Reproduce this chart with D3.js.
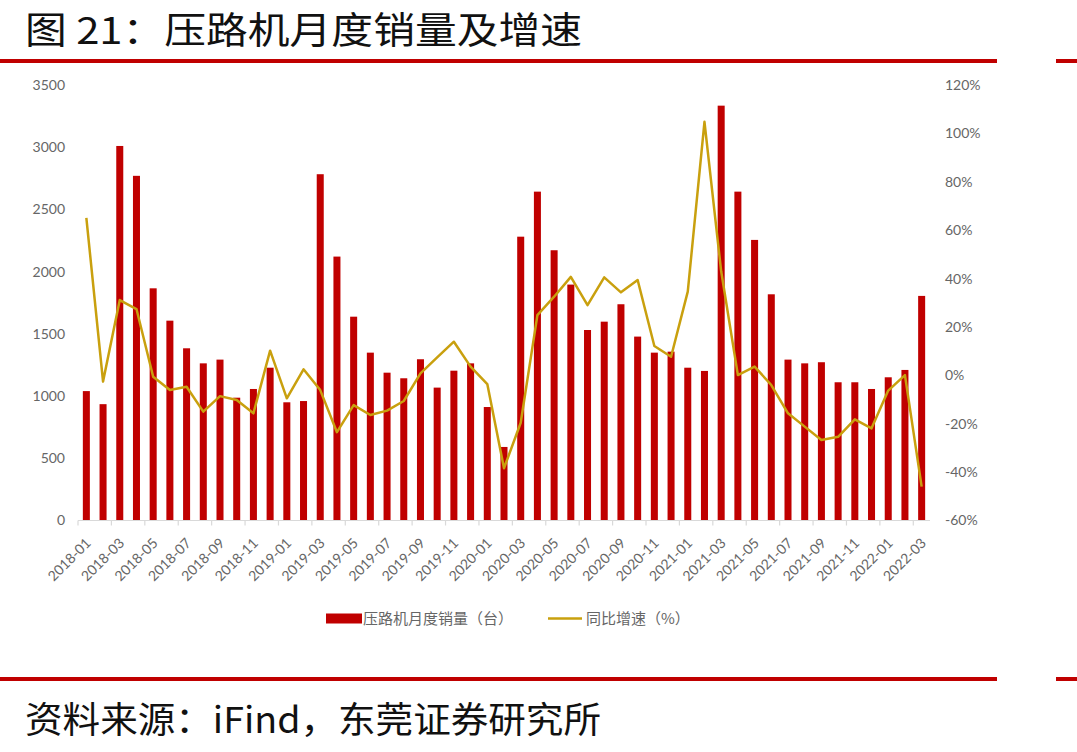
<!DOCTYPE html>
<html><head><meta charset="utf-8">
<script src="https://cdn.jsdelivr.net/npm/d3@7"></script>
<style>
body{margin:0;background:#fff;}
svg{display:block;}
text{font-family:Lato,"Noto Sans CJK SC",sans-serif;}
</style></head>
<body><svg id="c" width="1077" height="752"></svg>
<script>
const categories = ["2018-01","2018-02","2018-03","2018-04","2018-05","2018-06","2018-07","2018-08","2018-09","2018-10","2018-11","2018-12",
"2019-01","2019-02","2019-03","2019-04","2019-05","2019-06","2019-07","2019-08","2019-09","2019-10","2019-11","2019-12",
"2020-01","2020-02","2020-03","2020-04","2020-05","2020-06","2020-07","2020-08","2020-09","2020-10","2020-11","2020-12",
"2021-01","2021-02","2021-03","2021-04","2021-05","2021-06","2021-07","2021-08","2021-09","2021-10","2021-11","2021-12",
"2022-01","2022-02","2022-03"];
const sales = [1040,935,3010,2770,1866,1606,1384,1263,1293,987,1057,1228,
950,960,2783,2121,1638,1349,1188,1143,1296,1068,1204,1263,
912,591,2281,2643,2172,1896,1531,1598,1738,1478,1349,1357,
1228,1202,3334,2643,2255,1818,1293,1263,1272,1111,1111,1057,
1151,1210,1805];
const growth = [65.1,-2.6,31.1,27.4,-0.6,-6.1,-4.7,-15.0,-8.6,-10.2,-15.7,10.2,
-9.5,2.5,-6.1,-23.5,-12.3,-16.4,-14.6,-10.6,0.8,7.4,13.9,3.6,
-3.6,-38.4,-19.6,24.9,32.5,40.7,29.0,40.5,34.3,39.4,12.1,7.7,
34.6,104.8,43.0,0.1,3.6,-4.0,-15.7,-21.2,-26.7,-25.4,-18.2,-21.9,
-6.3,0.1,-46.0];
const leftTicks = [0,500,1000,1500,2000,2500,3000,3500];
const rightTicks = [-60,-40,-20,0,20,40,60,80,100,120];
const titleText = "图 21：压路机月度销量及增速";
const sourceText = "资料来源：iFind，东莞证券研究所";
const legendLabels = ["压路机月度销量（台）","同比增速（%）"];

const svg = d3.select("#c");
const red = "#c00000", gold = "#c9a00e", gray = "#666";

// title & rules
svg.append("text").attr("x",25).attr("y",44).attr("font-size",37)
  .attr("textLength",557).attr("lengthAdjust","spacingAndGlyphs")
  .style("font-family","'Noto Sans CJK SC'").attr("fill","#111").text(titleText);
[61,679].forEach(y=>{
  svg.append("rect").attr("x",0).attr("y",y-2).attr("width",997).attr("height",4).attr("fill",red);
  svg.append("rect").attr("x",1056).attr("y",y-2).attr("width",21).attr("height",4).attr("fill",red);
});
svg.append("text").attr("x",25).attr("y",733).attr("font-size",36)
  .attr("textLength",576).attr("lengthAdjust","spacingAndGlyphs")
  .style("font-family","'Noto Sans CJK SC'").attr("fill","#111").text(sourceText);

const x = d3.scaleBand().domain(categories).range([78,930]).paddingInner(0.58).paddingOuter(0.29);
const yL = d3.scaleLinear().domain([0,3500]).range([520.5,85]);
const yR = d3.scaleLinear().domain([-60,120]).range([520.5,85]);
const step = x.step();

// bars
svg.append("g").selectAll("rect").data(categories).join("rect")
  .attr("x",d=>x(d)).attr("width",x.bandwidth())
  .attr("y",(d,i)=>yL(sales[i])).attr("height",(d,i)=>yL(0)-yL(sales[i]))
  .attr("fill",red);

// x axis
const xb = svg.append("g").attr("transform","translate(0,520.5)");
xb.append("line").attr("x1",78).attr("x2",930).attr("stroke","#d9d9d9").attr("stroke-width",1.2);
xb.selectAll("line.t").data(categories.filter((d,i)=>i%2===0)).join("line").attr("class","t")
  .attr("x1",d=>x(d)-(step-x.bandwidth())/2).attr("x2",d=>x(d)-(step-x.bandwidth())/2)
  .attr("y1",0).attr("y2",5).attr("stroke","#d9d9d9").attr("stroke-width",1.2);
const xAxis = d3.axisBottom(x).tickValues(categories.filter((d,i)=>i%2===0)).tickSize(0);
const xg = svg.append("g").attr("transform","translate(0,520.5)").call(xAxis);
xg.select(".domain").remove();
xg.selectAll("text").attr("x",0).attr("y",0).attr("dy","0.35em")
  .attr("transform","translate(2,20) rotate(-45)").style("text-anchor","end")
  .attr("font-size",14).attr("fill",gray);

// left axis
const lg = svg.append("g").attr("transform","translate(68,0)")
  .call(d3.axisLeft(yL).tickValues(leftTicks).tickSize(0).tickPadding(3).tickFormat(d3.format("d")));
lg.select(".domain").remove();
lg.selectAll("text").attr("font-size",14).attr("fill",gray);

// right axis
const rg = svg.append("g").attr("transform","translate(942,0)")
  .call(d3.axisRight(yR).tickValues(rightTicks).tickSize(0).tickPadding(3).tickFormat(d=>d+"%"));
rg.select(".domain").remove();
rg.selectAll("text").attr("font-size",14).attr("fill",gray);

// line
const line = d3.line().x((d,i)=>x(categories[i])+x.bandwidth()/2).y(d=>yR(d));
svg.append("path").datum(growth).attr("d",line).attr("fill","none")
  .attr("stroke",gold).attr("stroke-width",2.5).attr("stroke-linejoin","round");

// legend
svg.append("rect").attr("x",326).attr("y",613.5).attr("width",36).attr("height",10).attr("fill",red);
svg.append("text").attr("x",363).attr("y",619).attr("dy","0.35em").attr("font-size",15)
  .attr("fill",gray).style("font-family","'Noto Sans CJK SC'").text(legendLabels[0]);
svg.append("line").attr("x1",548).attr("x2",582).attr("y1",618.5).attr("y2",618.5)
  .attr("stroke",gold).attr("stroke-width",2.5);
svg.append("text").attr("x",586).attr("y",619).attr("dy","0.35em").attr("font-size",15)
  .attr("fill",gray).style("font-family","'Noto Sans CJK SC'").text(legendLabels[1]);
</script></body></html>
